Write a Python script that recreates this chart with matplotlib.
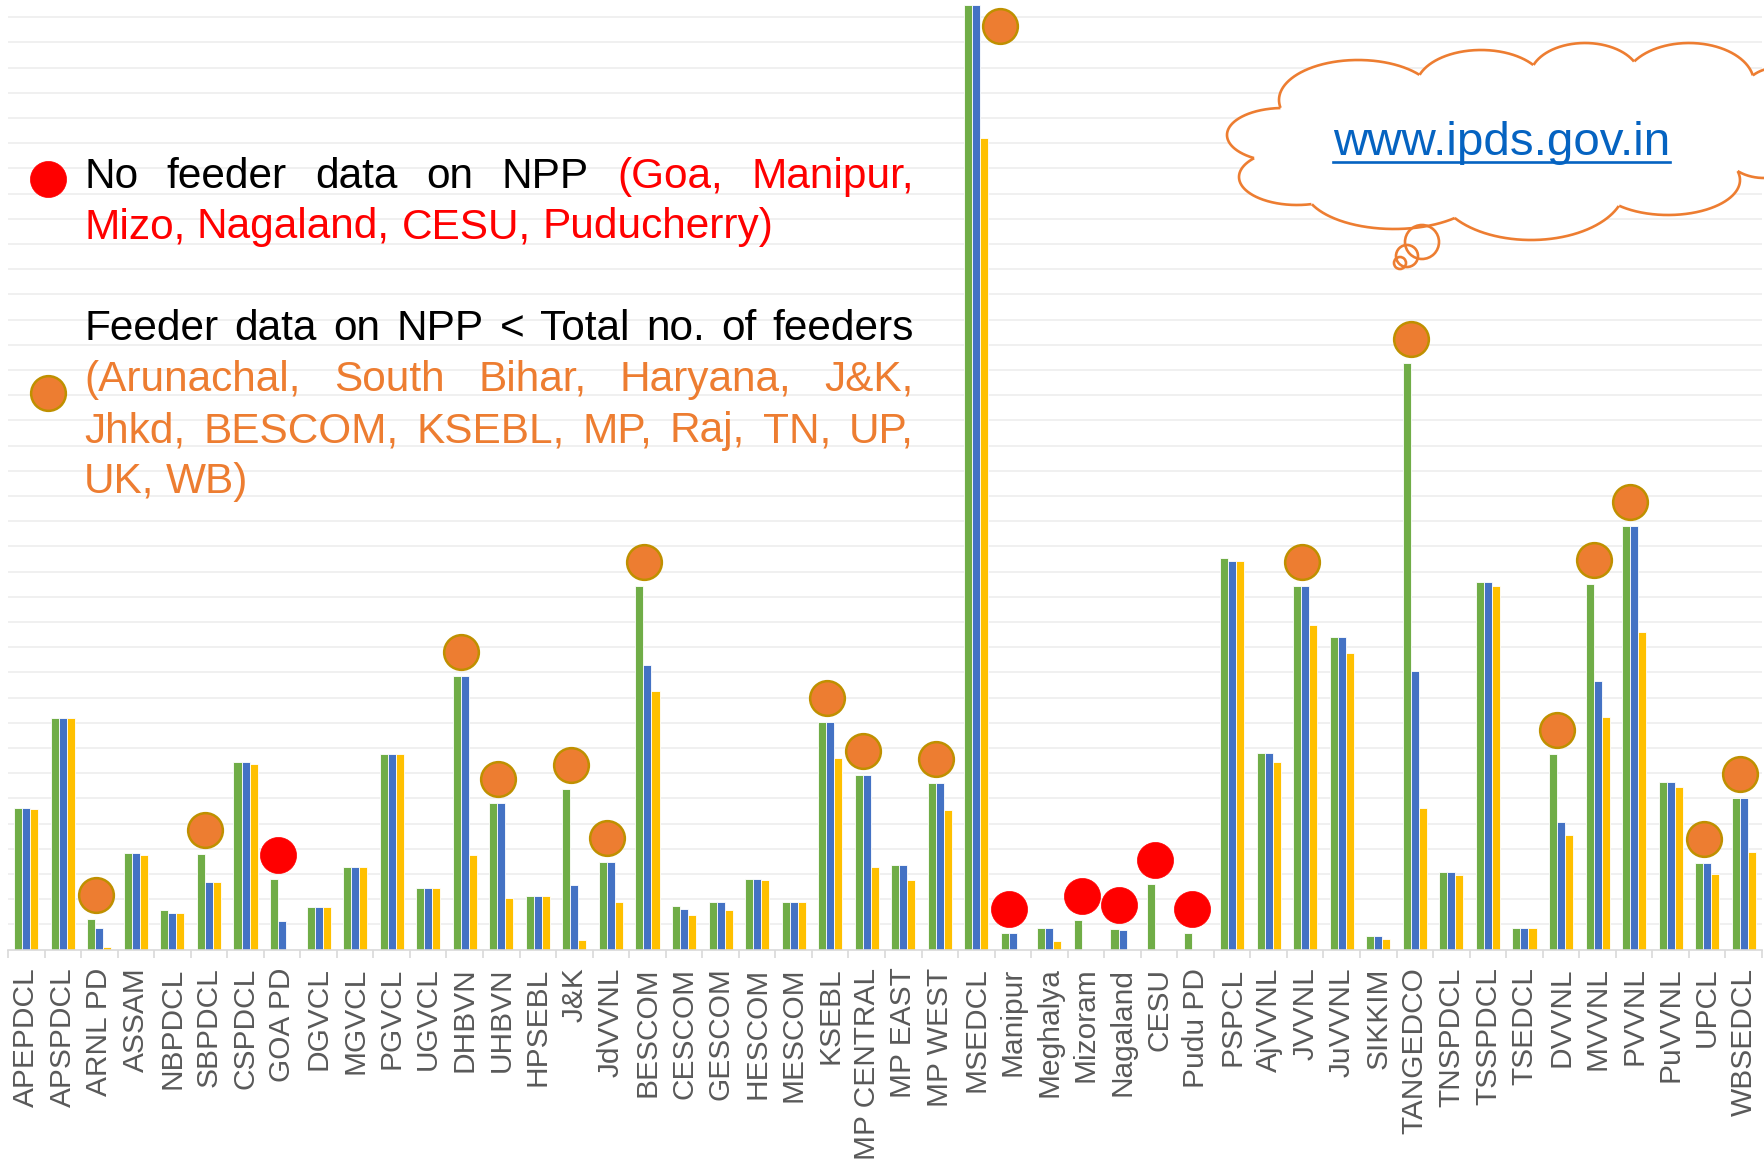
import numpy as np
import matplotlib
matplotlib.use("Agg")
import matplotlib.pyplot as plt
from matplotlib.path import Path
from matplotlib.patches import Ellipse, Circle, Polygon

plt.rcParams["font.family"] = ["Liberation Sans", "DejaVu Sans"]

# ---- data ----
categories = [
    "APEPDCL", "APSPDCL", "ARNL PD", "ASSAM", "NBPDCL", "SBPDCL", "CSPDCL", "GOA PD",
    "DGVCL", "MGVCL", "PGVCL", "UGVCL", "DHBVN", "UHBVN", "HPSEBL", "J&K", "JdVVNL",
    "BESCOM", "CESCOM", "GESCOM", "HESCOM", "MESCOM", "KSEBL", "MP CENTRAL", "MP EAST",
    "MP WEST", "MSEDCL", "Manipur", "Meghalya", "Mizoram", "Nagaland", "CESU", "Pudu PD",
    "PSPCL", "AjVVNL", "JVVNL", "JuVVNL", "SIKKIM", "TANGEDCO", "TNSPDCL", "TSSPDCL",
    "TSEDCL", "DVVNL", "MVVNL", "PVVNL", "PuVVNL", "UPCL", "WBSEDCL",
]

green_vals = [
    5.61, 9.19, 1.20, 3.83, 1.55, 3.80, 7.46, 2.81, 1.70, 3.29,
    7.77, 2.46, 10.87, 5.83, 2.13, 6.37, 3.49, 14.44, 1.74, 1.90,
    2.81, 1.90, 9.04, 6.94, 3.36, 6.61, 37.48, 0.66, 0.85, 1.18,
    0.83, 2.60, 0.67, 15.52, 7.79, 14.42, 12.39, 0.53, 23.26, 3.06,
    14.60, 0.85, 7.76, 14.51, 16.79, 6.64, 3.45, 6.01,
]
blue_vals = [
    5.61, 9.19, 0.85, 3.83, 1.43, 2.69, 7.46, 1.14, 1.70, 3.29,
    7.77, 2.46, 10.87, 5.83, 2.13, 2.54, 3.49, 11.28, 1.61, 1.90,
    2.81, 1.90, 9.04, 6.94, 3.36, 6.61, 37.48, 0.66, 0.85, 0.0,
    0.79, 0.0, 0.0, 15.41, 7.79, 14.42, 12.39, 0.53, 11.04, 3.06,
    14.60, 0.85, 5.04, 10.66, 16.79, 6.64, 3.45, 6.01,
]
yellow_vals = [
    5.57, 9.18, 0.09, 3.74, 1.43, 2.69, 7.37, 0.0, 1.70, 3.26,
    7.75, 2.46, 3.76, 2.06, 2.13, 0.38, 1.88, 10.26, 1.36, 1.55,
    2.76, 1.89, 7.61, 3.29, 2.77, 5.55, 32.19, 0.0, 0.34, 0.0,
    0.0, 0.0, 0.0, 15.41, 7.46, 12.87, 11.76, 0.42, 5.63, 2.95,
    14.42, 0.85, 4.55, 9.22, 12.59, 6.44, 2.99, 3.85,
]

no_data = ["GOA PD", "Manipur", "Mizoram", "Nagaland", "CESU", "Pudu PD"]
partial_data = [
    "ARNL PD", "SBPDCL", "DHBVN", "UHBVN", "J&K", "JdVVNL", "BESCOM", "KSEBL",
    "MP CENTRAL", "MP WEST", "MSEDCL", "JVVNL", "TANGEDCO", "DVVNL", "MVVNL",
    "PVVNL", "UPCL", "WBSEDCL",
]

note1_lines = [
    [("No", "k"), ("feeder", "k"), ("data", "k"), ("on", "k"), ("NPP", "k"),
     ("(Goa,", "r"), ("Manipur,", "r")],
    [("Mizo,", "r"), ("Nagaland,", "r"), ("CESU,", "r"), ("Puducherry)", "r")],
]
note2_lines = [
    [("Feeder", "k"), ("data", "k"), ("on", "k"), ("NPP", "k"), ("<", "k"),
     ("Total", "k"), ("no.", "k"), ("of", "k"), ("feeders", "k")],
    [("(Arunachal,", "o"), ("South", "o"), ("Bihar,", "o"), ("Haryana,", "o"), ("J&K,", "o")],
    [("Jhkd,", "o"), ("BESCOM,", "o"), ("KSEBL,", "o"), ("MP,", "o"), ("Raj,", "o"),
     ("TN,", "o"), ("UP,", "o")],
    [("UK,", "o"), ("WB)", "o")],
]
url_text = "www.ipds.gov.in"

GREEN = "#70AD47"
BLUE = "#4472C4"
YELLOW = "#FFC000"
ORANGE = "#ED7D31"
GOLD = "#BF9000"
RED = "#FF0000"
COLORS = {"k": "black", "r": RED, "o": ORANGE}

W, H = 1764, 1163
fig = plt.figure(figsize=(W / 100, H / 100), dpi=100)

# ---- main bar chart ----
base_px = 949.5
grid_px = 25.2
ytop = base_px / grid_px
ax = fig.add_axes([8 / W, (H - base_px) / H, 1754 / W, base_px / H])
ax.set_xlim(-0.5, len(categories) - 0.5)
ax.set_ylim(0, ytop)

x = np.arange(len(categories))
bw = 0.22
for off, vals, col in [(-bw, green_vals, GREEN), (0, blue_vals, BLUE), (bw, yellow_vals, YELLOW)]:
    ax.bar(x + off, vals, width=bw, color=col, edgecolor="white", linewidth=0.6, zorder=2)

for g in range(1, int(ytop) + 1):
    ax.axhline(g, color="#EEEEEE", linewidth=1.2, zorder=0)

for sp in ["top", "left", "right"]:
    ax.spines[sp].set_visible(False)
ax.spines["bottom"].set_color("#D9D9D9")
ax.spines["bottom"].set_linewidth(1.2)
ax.set_yticks([])
ax.set_xticks(x)
ax.set_xticklabels(categories, rotation=90, fontsize=21.5, color="#595959")
ax.tick_params(axis="x", which="major", length=0, pad=13)
ax.set_xticks(np.arange(len(categories) + 1) - 0.5, minor=True)
ax.tick_params(axis="x", which="minor", length=6, width=1.2, color="#D9D9D9")


def marker_pos(name):
    i = categories.index(name)
    y = green_vals[i] + 0.95
    if y + 0.7 > ytop:
        # bar runs off the top: marker sits beside it
        return i + 0.66, ytop - 1.05
    return i - 0.1, y


for name in partial_data:
    mx, my = marker_pos(name)
    ax.plot(mx, my, "o", ms=25, mfc=ORANGE, mec=GOLD, mew=1.8, zorder=4, clip_on=False)
for name in no_data:
    mx, my = marker_pos(name)
    ax.plot(mx, my, "o", ms=26, mfc=RED, mec=RED, mew=0.5, zorder=4, clip_on=False)

# ---- overlay for notes and cloud (pixel coords) ----
ov = fig.add_axes([0, 0, 1, 1], zorder=5)
ov.set_xlim(0, W)
ov.set_ylim(H, 0)
ov.axis("off")
ov.patch.set_alpha(0)

renderer = fig.canvas.get_renderer()
FS = 30.5


def draw_line(words, y, left, right, justify):
    texts = [ov.text(0, y, w, color=COLORS[c], fontsize=FS, va="baseline", ha="left")
             for w, c in words]
    widths = [t.get_window_extent(renderer).width for t in texts]
    sp = ov.text(0, 0, "a a", fontsize=FS)
    sp2 = ov.text(0, 0, "aa", fontsize=FS)
    space = sp.get_window_extent(renderer).width - sp2.get_window_extent(renderer).width
    sp.remove()
    sp2.remove()
    gap = (right - left - sum(widths)) / (len(words) - 1) if justify else space
    xx = left
    for t, w in zip(texts, widths):
        t.set_x(xx)
        xx += w + gap


def draw_para(lines, y0, step):
    for k, words in enumerate(lines):
        draw_line(words, y0 + k * step, 84, 914, k < len(lines) - 1)


draw_para(note1_lines, 188, 50)
draw_para(note2_lines, 340, 51)
ov.plot(48, 179, "o", ms=26, mfc=RED, mec=RED, mew=0.5)
ov.plot(48, 393, "o", ms=25, mfc=ORANGE, mec=GOLD, mew=1.8)

# cloud callout
lobes = [
    (1358, 100, 79, 40), (1481, 87, 65, 37), (1585, 77, 55, 34), (1689, 83, 65, 40),
    (1775, 112, 40, 44), (1764, 150, 40, 28), (1668, 180, 72, 35), (1531, 187, 94, 53),
    (1394, 187, 90, 42), (1297, 177, 58, 28), (1283, 135, 56, 27),
]
core = np.array([(cx, cy) for cx, cy, _, _ in lobes])
ov.add_patch(Polygon(core, closed=True, facecolor="white", edgecolor="none", zorder=1))
for cx, cy, rx, ry in lobes:
    ov.add_patch(Ellipse((cx, cy), 2 * rx, 2 * ry, facecolor="white", edgecolor="none", zorder=1))

core_path = Path(core)
t = np.linspace(0, 2 * np.pi, 720)
for j, (cx, cy, rx, ry) in enumerate(lobes):
    px = cx + rx * np.cos(t)
    py = cy + ry * np.sin(t)
    keep = ~core_path.contains_points(np.column_stack([px, py]))
    for k, (ox, oy, orx, ory) in enumerate(lobes):
        if k != j:
            keep &= ((px - ox) / orx) ** 2 + ((py - oy) / ory) ** 2 > 1
    px = np.where(keep, px, np.nan)
    ov.plot(px, py, color=ORANGE, lw=1.9, zorder=2, solid_capstyle="butt")

for cx, cy, r in [(1422, 242, 17), (1407, 256, 11), (1400, 263, 6)]:
    ov.add_patch(Circle((cx, cy), r, facecolor="none", edgecolor=ORANGE, lw=1.9, zorder=2))

url = ov.text(1333, 155, url_text, color="#0563C1", fontsize=34.2, va="baseline", ha="left", zorder=3)
uw = url.get_window_extent(renderer).width
ov.plot([1333, 1333 + uw], [162, 162], color="#0563C1", lw=1.9, zorder=3)

fig.savefig("out.png", dpi=100)
